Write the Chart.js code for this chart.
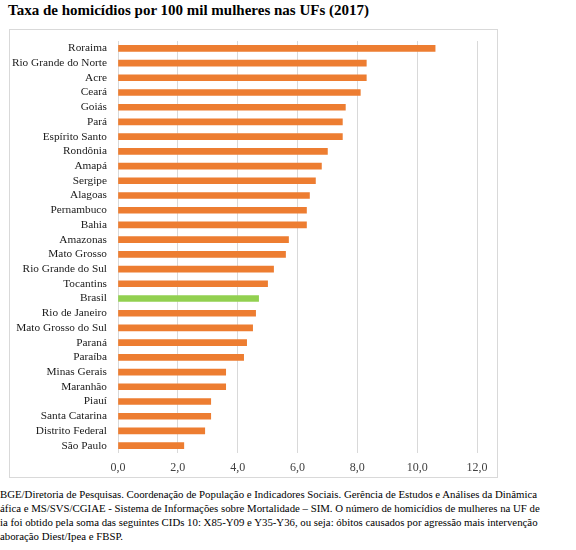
<!DOCTYPE html>
<html>
<head>
<meta charset="utf-8">
<script src="https://cdn.jsdelivr.net/npm/chart.js@4"></script>
<style>
  body { margin: 0; background: #fff; width: 576px; height: 550px; overflow: hidden; position: relative; }
  #title { position: absolute; left: 8px; top: 2px; font: bold 15px "Liberation Serif", "Times New Roman", serif; color: #000; white-space: nowrap; }
  #box { position: absolute; left: 9px; top: 29px; width: 487px; height: 447px; border: 1px solid #d9d9d9; }
  #box canvas { position: absolute; left: 0; top: 0; }
  #note { position: absolute; left: 0; top: 487px; font: 10.8px "Liberation Serif", "Times New Roman", serif; line-height: 14px; color: #000; white-space: nowrap; }
</style>
</head>
<body>
<div id="title">Taxa de homicídios por 100 mil mulheres nas UFs (2017)</div>
<div id="box"><canvas id="chart1" width="487" height="447"></canvas></div>
<div id="note">
BGE/Diretoria de Pesquisas. Coordenação de População e Indicadores Sociais. Gerência de Estudos e Análises da Dinâmica<br>
áfica e MS/SVS/CGIAE - Sistema de Informações sobre Mortalidade – SIM. O número de homicídios de mulheres na UF de<br>
ia foi obtido pela soma das seguintes CIDs 10: X85-Y09 e Y35-Y36, ou seja: óbitos causados por agressão mais intervenção<br>
aboração Diest/Ipea e FBSP.
</div>
<script>
const UFS = [
  'Roraima', 'Rio Grande do Norte', 'Acre', 'Ceará', 'Goiás', 'Pará', 'Espírito Santo',
  'Rondônia', 'Amapá', 'Sergipe', 'Alagoas', 'Pernambuco', 'Bahia', 'Amazonas',
  'Mato Grosso', 'Rio Grande do Sul', 'Tocantins', 'Brasil', 'Rio de Janeiro',
  'Mato Grosso do Sul', 'Paraná', 'Paraíba', 'Minas Gerais', 'Maranhão', 'Piauí',
  'Santa Catarina', 'Distrito Federal', 'São Paulo'
];
const TAXAS = [
  10.6, 8.3, 8.3, 8.1, 7.6, 7.5, 7.5,
  7.0, 6.8, 6.6, 6.4, 6.3, 6.3, 5.7,
  5.6, 5.2, 5.0, 4.7, 4.6,
  4.5, 4.3, 4.2, 3.6, 3.6, 3.1,
  3.1, 2.9, 2.2
];
const X_TICKS = [0, 2, 4, 6, 8, 10, 12];

const LARANJA = '#ED7D31';
const VERDE = '#92D050';
const SERIF = "'Liberation Serif', 'Times New Roman', serif";

Chart.defaults.font.family = SERIF;

const chart1 = new Chart(document.getElementById('chart1'), {
  type: 'bar',
  data: {
    labels: UFS,
    datasets: [{
      data: TAXAS,
      backgroundColor: UFS.map(u => u === 'Brasil' ? VERDE : LARANJA),
      borderWidth: 0,
      barThickness: 6,
    }]
  },
  options: {
    indexAxis: 'y',
    responsive: false,
    animation: false,
    layout: { padding: { top: 11, right: 20, bottom: 0, left: 0 } },
    plugins: {
      legend: { display: false },
      tooltip: { enabled: false }
    },
    scales: {
      x: {
        min: 0,
        max: 12,
        afterBuildTicks: s => { s.ticks = X_TICKS.map(v => ({ value: v })); },
        afterFit: s => { s.height = 24; s.paddingLeft = 0; s.paddingRight = 0; },
        grid: { color: '#d9d9d9', drawTicks: false },
        border: { display: false },
        ticks: {
          padding: 8,
          color: '#404040',
          font: { family: SERIF, size: 12 },
          callback: v => v.toFixed(1).replace('.', ',')
        }
      },
      y: {
        afterFit: s => { s.width = 108; s.paddingTop = 0; s.paddingBottom = 0; },
        grid: { display: false },
        border: { display: false },
        ticks: {
          padding: 3,
          autoSkip: false,
          color: '#1a1a1a',
          font: { family: SERIF, size: 11.3 }
        }
      }
    }
  }
});
</script>
</body>
</html>
